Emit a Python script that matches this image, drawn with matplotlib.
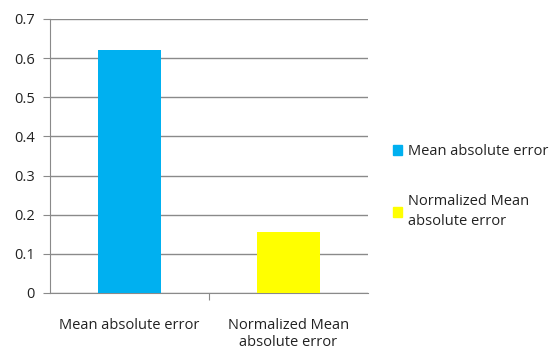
import matplotlib.pyplot as plt
from matplotlib.patches import Patch

categories = ["Mean absolute error", "Normalized Mean\nabsolute error"]
values = [0.621, 0.156]
colors = ["#00B0F0", "#FFFF00"]
legend_labels = ["Mean absolute error", "Normalized Mean\nabsolute error"]
yticks = [0, 0.1, 0.2, 0.3, 0.4, 0.5, 0.6, 0.7]

plt.rcParams["font.family"] = ["Open Sans", "DejaVu Sans"]

fig = plt.figure(figsize=(5.58, 3.49), dpi=100)
ax = fig.add_axes([50 / 558, 56 / 349, 318 / 558, 274 / 349])

x = list(range(len(categories)))
ax.bar(x, values, width=0.4, color=colors, zorder=3)

ax.set_xlim(-0.5, 1.5)
ax.set_ylim(0, 0.7)
ax.set_yticks(yticks)
ax.set_yticklabels([f"{t:g}" for t in yticks], fontsize=10.5, color="#222222")
ax.yaxis.grid(True, color="#8a8a8a", linewidth=1, zorder=0)

ax.set_xticks([0.5], minor=False)
ax.set_xticklabels([""])
ax.tick_params(axis="x", length=5, color="#8a8a8a")
ax.tick_params(axis="y", length=5, color="#8a8a8a", pad=6)
for i, c in enumerate(categories):
    ax.text(i, -0.09, c, ha="center", va="top", fontsize=10.5, color="#222222",
            transform=ax.get_xaxis_transform(), linespacing=1.25)

for s in ["top", "right"]:
    ax.spines[s].set_visible(False)
for s in ["left", "bottom"]:
    ax.spines[s].set_color("#8a8a8a")

handles = [Patch(color=c) for c in colors]
leg = fig.legend(handles, legend_labels, loc="upper left", bbox_to_anchor=(380 / 558, 1 - 131 / 349),
                 frameon=False, fontsize=10.5, handlelength=0.6, handleheight=0.6,
                 handletextpad=0.45, labelspacing=2.4, labelcolor="#222222")
for t in leg.get_texts():
    t.set_linespacing(1.45)

fig.savefig("out.png", dpi=100)
